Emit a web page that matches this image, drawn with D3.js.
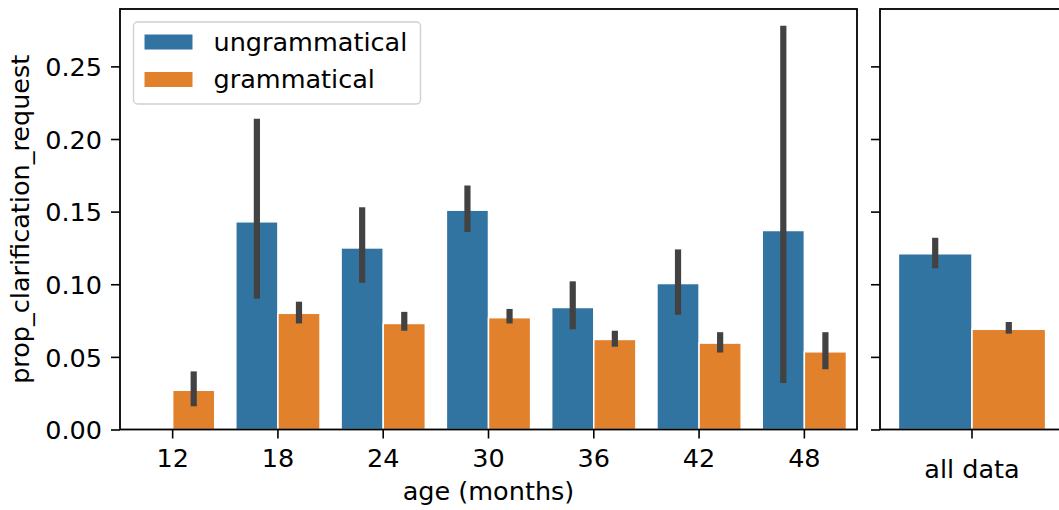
<!DOCTYPE html>
<html><head><meta charset="utf-8">
<script src="https://cdn.jsdelivr.net/npm/d3@7"></script>
<style>body{margin:0;background:#fff}svg{display:block}text{font-family:"DejaVu Sans",sans-serif}</style>
</head><body>
<script>
const categories = ["12","18","24","30","36","42","48"];
const seriesNames = ["ungrammatical","grammatical"];
const ungram   = [null, 0.143, 0.125, 0.151, 0.084, 0.1005, 0.137];
const ungramLo = [null, 0.090, 0.101, 0.136, 0.069, 0.079, 0.032];
const ungramHi = [null, 0.214, 0.153, 0.168, 0.102, 0.124, 0.278];
const gram     = [0.027, 0.080, 0.073, 0.077, 0.062, 0.0595, 0.0535];
const gramLo   = [0.016, 0.073, 0.068, 0.073, 0.057, 0.053, 0.0415];
const gramHi   = [0.040, 0.088, 0.081, 0.083, 0.068, 0.067, 0.067];
const allCategories = ["all data"];
const allUngram = [0.121], allUngramLo = [0.111], allUngramHi = [0.132];
const allGram = [0.069], allGramLo = [0.066], allGramHi = [0.074];
const yTicks = [0, 0.05, 0.10, 0.15, 0.20, 0.25];

const W = 1059, H = 510;
const colors = ["#3274a1", "#e1812c"];
const errColor = "#424242";
const FS = 25.5;
const svg = d3.select("body").append("svg").attr("width", W).attr("height", H);

const yTop = 9, yBottom = 429.5;
const y = d3.scaleLinear().domain([0, 0.2895]).range([yBottom, yTop]);

function panel(x0, x1, cats, series, showLabels, xlabel, xlabelY) {
  const g = svg.append("g");
  const x = d3.scaleBand().domain(cats).range([x0, x1]).paddingInner(0).paddingOuter(0);
  const bw = x.bandwidth() * 0.8;
  const sub = bw / 2;
  series.forEach((s, si) => {
    const data = cats.map((c, i) => ({c, v: s.v[i], lo: s.lo[i], hi: s.hi[i]})).filter(d => d.v != null);
    g.selectAll(null).data(data).enter().append("rect")
      .attr("x", d => x(d.c) + x.bandwidth() * 0.1 + si * sub)
      .attr("y", d => y(d.v))
      .attr("width", sub)
      .attr("height", d => y(0) - y(d.v))
      .attr("fill", colors[si])
      .attr("stroke", "#fff").attr("stroke-width", 1.5);
    g.selectAll(null).data(data).enter().append("line")
      .attr("x1", d => x(d.c) + x.bandwidth() * 0.1 + si * sub + sub / 2)
      .attr("x2", d => x(d.c) + x.bandwidth() * 0.1 + si * sub + sub / 2)
      .attr("y1", d => y(d.lo)).attr("y2", d => y(d.hi))
      .attr("stroke", errColor).attr("stroke-width", 6.2);
  });
  const ya = d3.axisLeft(y).tickValues(yTicks).tickSize(9).tickPadding(9)
    .tickFormat(showLabels ? d3.format(".2f") : "");
  const yg = g.append("g").attr("transform", `translate(${x0},0)`).call(ya);
  yg.select(".domain").remove();
  yg.selectAll("line").attr("stroke", "#000").attr("stroke-width", 1.6);
  yg.selectAll("text").attr("font-size", FS).attr("fill", "#000").attr("font-family", "DejaVu Sans")
    .attr("dy", "0.36em");
  const xa = d3.axisBottom(x).tickSize(9).tickFormat(showLabels ? (d => d) : "");
  const xg = g.append("g").attr("transform", `translate(0,${yBottom})`).call(xa);
  xg.select(".domain").remove();
  xg.selectAll("line").attr("stroke", "#000").attr("stroke-width", 1.6);
  xg.selectAll("text").attr("font-size", FS).attr("fill", "#000").attr("font-family", "DejaVu Sans")
    .attr("y", 37.8).attr("dy", "0");
  g.append("rect").attr("x", x0).attr("y", yTop).attr("width", x1 - x0).attr("height", yBottom - yTop)
    .attr("fill", "none").attr("stroke", "#000").attr("stroke-width", 1.8);
  if (xlabel) g.append("text").attr("x", (x0 + x1) / 2).attr("y", xlabelY)
    .attr("text-anchor", "middle").attr("font-size", FS).text(xlabel);
  return x;
}

panel(120, 857, categories, [
  {v: ungram, lo: ungramLo, hi: ungramHi},
  {v: gram, lo: gramLo, hi: gramHi}
], true, "age (months)", 500);

const xr = panel(880, 1064, allCategories, [
  {v: allUngram, lo: allUngramLo, hi: allUngramHi},
  {v: allGram, lo: allGramLo, hi: allGramHi}
], false, "", 0);
svg.append("text").attr("x", xr(allCategories[0]) + xr.bandwidth() / 2).attr("y", 477.5)
  .attr("text-anchor", "middle").attr("font-size", FS).text(allCategories[0]);

svg.append("text").attr("transform", `translate(29,${(yTop + yBottom) / 2}) rotate(-90)`)
  .attr("text-anchor", "middle").attr("font-size", FS).text("prop_clarification_request");

const lg = svg.append("g");
lg.append("rect").attr("x", 133.5).attr("y", 22).attr("width", 287).attr("height", 82)
  .attr("rx", 4).attr("fill", "#fff").attr("fill-opacity", 0.8).attr("stroke", "#d0d0d0").attr("stroke-width", 1.4);
seriesNames.forEach((n, i) => {
  const cy = 42 + i * 37.5;
  lg.append("rect").attr("x", 144).attr("y", cy - 8).attr("width", 49).attr("height", 16)
    .attr("fill", colors[i]).attr("stroke", "#fff").attr("stroke-width", 1);
  lg.append("text").attr("x", 213.5).attr("y", 50.5 + i * 37.5).attr("font-size", FS).text(n);
});
</script>
</body></html>
